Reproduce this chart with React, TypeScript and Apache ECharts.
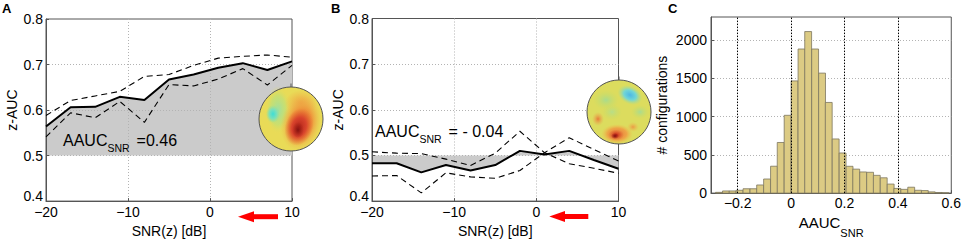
import React, { useEffect, useRef } from "react";
import * as echarts from "echarts";

// ---------- data ----------
const SNR = [-20, -17, -14, -11, -8, -5, -2, 1, 4, 7, 10];
const A_MEAN = [0.564, 0.606, 0.607, 0.629, 0.622, 0.667, 0.678, 0.693, 0.703, 0.688, 0.707];
const A_UPPER = [0.588, 0.621, 0.631, 0.641, 0.674, 0.678, 0.698, 0.714, 0.718, 0.721, 0.716];
const A_LOWER = [0.541, 0.594, 0.583, 0.619, 0.573, 0.656, 0.653, 0.668, 0.691, 0.655, 0.698];

const B_MEAN = [0.483, 0.483, 0.463, 0.479, 0.467, 0.479, 0.51, 0.502, 0.51, 0.49, 0.471];
const B_DASH1 = [0.508, 0.505, 0.504, 0.492, 0.478, 0.505, 0.553, 0.506, 0.482, 0.472, 0.461];
const B_DASH2 = [0.455, 0.456, 0.418, 0.462, 0.453, 0.45, 0.467, 0.506, 0.539, 0.513, 0.488];

const HIST_CENTERS = [
  -0.27, -0.244, -0.219, -0.193, -0.167, -0.141, -0.116, -0.09, -0.064, -0.039, -0.013,
  0.013, 0.039, 0.064, 0.09, 0.116, 0.141, 0.167, 0.193, 0.219, 0.244, 0.27, 0.296,
  0.321, 0.347, 0.373, 0.398, 0.424, 0.45, 0.476, 0.501, 0.527, 0.553, 0.578,
];
const HIST_COUNTS = [
  10, 28, 28, 37, 57, 57, 106, 184, 351, 661, 1016, 1465, 1882, 2110, 1882, 1567, 1184,
  707, 524, 350, 313, 276, 272, 232, 200, 118, 61, 49, 77, 37, 33, 16, 8, 4,
];
const BIN_WIDTH = 0.0257;
const C_VLINES = [-0.2, 0, 0.2, 0.4];
const C_XTICKS = [-0.2, 0, 0.2, 0.4, 0.6];

const SNR_TICKS_INTERVAL = 10;
const AUC_TICKS_INTERVAL = 0.1;
const COUNT_TICKS_INTERVAL = 500;

// ---------- style ----------
const FONT = '"Liberation Sans", Arial, Helvetica, sans-serif';
const AXIS_COLOR = "#555";
const GRID_COLOR = "#b3b3b3";
const FILL_GREY = "#cbcbcb";
const TOP_Z = 100;

const minusFmt = (v: number, digits: number) => {
  const s = Math.abs(v).toFixed(digits);
  return v < -1e-9 ? "\u2212" + s : s;
};

const pairs = (xs: number[], ys: number[]) => xs.map((x, i) => [x, ys[i]]);

function radial(stops: [number, string][]) {
  return {
    type: "radial",
    x: 0.5,
    y: 0.5,
    r: 0.5,
    colorStops: stops.map(([offset, color]) => ({ offset, color })),
  };
}

function blob(cx: number, cy: number, rx: number, ry: number, stops: [number, string][], rotation = 0) {
  return {
    type: "ellipse",
    x: cx,
    y: cy,
    rotation,
    z: TOP_Z,
    shape: { cx: 0, cy: 0, rx, ry },
    style: { fill: radial(stops) },
    silent: true,
  };
}

function head(cx: number, cy: number, r: number, fill: string, blobs: any[]) {
  return [
    { type: "circle", z: TOP_Z, shape: { cx, cy, r }, style: { fill } },
    ...blobs,
    { type: "circle", z: TOP_Z, shape: { cx, cy, r }, style: { fill: "none", stroke: "#555", lineWidth: 1 } },
    { type: "line", z: TOP_Z, shape: { x1: cx, y1: cy - r - 3.5, x2: cx, y2: cy - r }, style: { stroke: "#555", lineWidth: 1 } },
  ];
}

function topoA() {
  return head(291, 119, 32, "#e9db57", [
    blob(278, 110, 13, 24, [[0, "#9fe0a0"], [0.6, "rgba(190,224,120,0.7)"], [1, "rgba(233,219,87,0)"]]),
    blob(273, 114, 7, 9, [[0, "#3fded6"], [0.55, "#7ee0b8"], [1, "rgba(150,224,150,0)"]]),
    blob(301, 103, 16, 13, [[0, "#f0a040"], [1, "rgba(240,170,70,0)"]]),
    blob(301, 123, 20, 28, [[0, "#e25f27"], [0.55, "#ee9a3e"], [1, "rgba(236,190,80,0)"]], -0.25),
    blob(299, 127, 14, 19, [[0, "#b4261a"], [0.5, "#d8432c"], [1, "rgba(230,100,45,0)"]], -0.3),
    blob(298, 130, 6, 8, [[0, "#861210"], [1, "rgba(160,30,20,0)"]]),
  ]);
}

function topoB() {
  return head(619, 112, 32, "#dcdc5e", [
    blob(606, 100, 13, 10, [[0, "#a8dc8e"], [1, "rgba(200,220,100,0)"]]),
    blob(612, 112, 10, 8, [[0, "#b8de88"], [1, "rgba(200,220,100,0)"]]),
    blob(640, 112, 9, 7, [[0, "#a8dc92"], [1, "rgba(200,220,100,0)"]]),
    blob(630, 95, 13, 9, [[0, "#4cb8e6"], [0.5, "#72d6d6"], [1, "rgba(170,220,140,0)"]], -0.45),
    blob(598, 119, 6, 7, [[0, "#e77a38"], [1, "rgba(235,170,80,0)"]]),
    blob(633, 127, 6, 5, [[0, "#ec9a44"], [1, "rgba(235,190,80,0)"]]),
    blob(617, 134, 16, 10, [[0, "#e6753a"], [0.6, "#eea446"], [1, "rgba(235,200,80,0)"]]),
    blob(616, 135, 8, 5.5, [[0, "#c62418"], [1, "rgba(220,80,40,0)"]]),
    blob(615, 136, 4, 3, [[0, "#7e0e0e"], [1, "rgba(150,20,20,0)"]]),
  ]);
}

function arrow(tipX: number, baseX: number, endX: number, y: number) {
  return [
    { type: "rect", z: TOP_Z, shape: { x: baseX - 1, y: y - 2.5, width: endX - baseX + 1, height: 5 }, style: { fill: "#ff0000" } },
    { type: "polygon", z: TOP_Z, shape: { points: [[tipX, y], [baseX, y - 5.5], [baseX, y + 5.5]] }, style: { fill: "#ff0000" } },
  ];
}

const annotRich = {
  a: { fontFamily: FONT, fontSize: 16, lineHeight: 18, verticalAlign: "top", color: "#000" },
  s: { fontFamily: FONT, fontSize: 10.5, lineHeight: 10, padding: [10, 0, 0, 0], verticalAlign: "top", color: "#000" },
  b: { fontFamily: FONT, fontSize: 16, lineHeight: 18, verticalAlign: "top", color: "#000", padding: [0, 0, 0, 7] },
};

function letter(text: string, x: number) {
  return {
    type: "text",
    x,
    y: 2,
    z: TOP_Z,
    style: { text, fontFamily: FONT, fontSize: 13, fontWeight: "bold", fill: "#000", verticalAlign: "top" },
  };
}

function snrXAxis(gridIndex: number) {
  return {
    type: "value",
    gridIndex,
    min: -20,
    max: 10,
    interval: SNR_TICKS_INTERVAL,
    z: 3,
    axisLine: { show: true, onZero: false, lineStyle: { color: AXIS_COLOR, width: 1 } },
    axisTick: { show: true, inside: true, length: 3, lineStyle: { color: AXIS_COLOR } },
    axisLabel: { margin: 5, lineHeight: 12, fontFamily: FONT, fontSize: 14, color: "#000", formatter: (v: number) => minusFmt(v, 0) },
    splitLine: { show: true, showMinLine: false, showMaxLine: false, lineStyle: { color: GRID_COLOR, type: [1, 2], width: 1 } },
    name: "SNR(z) [dB]",
    nameLocation: "middle",
    nameGap: 16,
    nameTextStyle: { fontFamily: FONT, fontSize: 14, color: "#000" },
  };
}

function aucYAxis(gridIndex: number) {
  return {
    type: "value",
    gridIndex,
    min: 0.4,
    max: 0.8,
    interval: AUC_TICKS_INTERVAL,
    z: 3,
    axisLine: { show: true, onZero: false, lineStyle: { color: AXIS_COLOR, width: 1 } },
    axisTick: { show: true, inside: true, length: 3, lineStyle: { color: AXIS_COLOR } },
    axisLabel: {
      margin: 3,
      lineHeight: 10,
      fontFamily: FONT,
      fontSize: 14,
      color: "#000",
      verticalAlignMinLabel: "bottom",
      formatter: (v: number) => v.toFixed(1),
    },
    splitLine: { show: true, showMinLine: false, showMaxLine: false, lineStyle: { color: GRID_COLOR, type: [1, 2], width: 1 } },
    name: "z-AUC",
    nameLocation: "middle",
    nameGap: 27,
    nameTextStyle: { fontFamily: FONT, fontSize: 14, color: "#000" },
  };
}

function snrSeries(idx: number, mean: number[], d1: number[], d2: number[]) {
  const common = { type: "line", xAxisIndex: idx, yAxisIndex: idx, symbol: "none", showSymbol: false, silent: true };
  return [
    {
      ...common,
      data: pairs(SNR, mean),
      lineStyle: { width: 0, opacity: 0 },
      areaStyle: { color: FILL_GREY, opacity: 1, origin: 0.5 },
      z: 1,
    },
    { ...common, data: pairs(SNR, d1), lineStyle: { color: "#000", width: 1.1, type: [6, 4] } },
    { ...common, data: pairs(SNR, d2), lineStyle: { color: "#000", width: 1.1, type: [6, 4] } },
    { ...common, data: pairs(SNR, mean), lineStyle: { color: "#000", width: 2 } },
  ];
}

export default function App() {
  const ref = useRef<HTMLDivElement>(null);
  useEffect(() => {
    if (!ref.current) return;
    const chart = echarts.init(ref.current, undefined, { renderer: "svg" });
    const gridBase = { show: true, borderColor: AXIS_COLOR, borderWidth: 1, backgroundColor: "transparent", containLabel: false };
    const option: any = {
      animation: false,
      backgroundColor: "#fff",
      grid: [
        { ...gridBase, left: 46, top: 19, width: 246, height: 186 },
        { ...gridBase, left: 372, top: 18.5, width: 246.5, height: 187 },
        { ...gridBase, left: 711, top: 17, width: 241, height: 189 },
      ],
      xAxis: [
        snrXAxis(0),
        snrXAxis(1),
        {
          type: "value",
          gridIndex: 2,
          min: -0.3,
          max: 0.6,
          axisLine: { show: true, onZero: false, lineStyle: { color: AXIS_COLOR, width: 1 } },
          axisTick: { show: true, inside: true, length: 3, customValues: C_XTICKS, lineStyle: { color: AXIS_COLOR } },
          axisLabel: {
            margin: 4,
            lineHeight: 12,
            fontFamily: FONT,
            fontSize: 14,
            color: "#000",
            customValues: C_XTICKS,
            formatter: (v: number) => (Math.abs(v) < 1e-9 ? "0" : minusFmt(v, 1)),
          },
          splitLine: { show: false },
          name: "{a|AAUC}{s|SNR}",
          nameLocation: "middle",
          nameGap: 17,
          nameTextStyle: {
            rich: {
              a: { fontFamily: FONT, fontSize: 15, lineHeight: 16, verticalAlign: "top", color: "#000" },
              s: { fontFamily: FONT, fontSize: 11, lineHeight: 11, padding: [12, 0, 0, 0], verticalAlign: "top", color: "#000" },
            },
          },
        },
      ],
      yAxis: [
        aucYAxis(0),
        aucYAxis(1),
        {
          type: "value",
          gridIndex: 2,
          min: 0,
          max: 2300,
          interval: COUNT_TICKS_INTERVAL,
          axisLine: { show: true, onZero: false, lineStyle: { color: AXIS_COLOR, width: 1 } },
          axisTick: { show: true, inside: true, length: 3, lineStyle: { color: AXIS_COLOR } },
          axisLabel: {
            margin: 4,
            lineHeight: 10,
            fontFamily: FONT,
            fontSize: 14,
            color: "#000",
            showMaxLabel: false,
            formatter: (v: number) => (v % COUNT_TICKS_INTERVAL === 0 ? String(v) : ""),
          },
          splitLine: { show: true, showMinLine: false, showMaxLine: false, lineStyle: { color: GRID_COLOR, type: [1, 2], width: 1 } },
          name: "# configurations",
          nameLocation: "middle",
          nameGap: 42,
          nameTextStyle: { fontFamily: FONT, fontSize: 14, color: "#000" },
        },
      ],
      series: [
        ...snrSeries(0, A_MEAN, A_UPPER, A_LOWER),
        ...snrSeries(1, B_MEAN, B_DASH1, B_DASH2),
        {
          type: "custom",
          xAxisIndex: 2,
          yAxisIndex: 2,
          silent: true,
          data: pairs(HIST_CENTERS, HIST_COUNTS),
          encode: { x: 0, y: 1 },
          renderItem: (params: any, api: any) => {
            const c = api.value(0);
            const n = api.value(1);
            const p0 = api.coord([c - BIN_WIDTH / 2, n]);
            const p1 = api.coord([c + BIN_WIDTH / 2, 0]);
            return {
              type: "rect",
              shape: { x: p0[0], y: p0[1], width: p1[0] - p0[0], height: p1[1] - p0[1] },
              style: { fill: "#dccb84", stroke: "#7c7660", lineWidth: 0.8 },
            };
          },
          markLine: {
            silent: true,
            symbol: ["none", "none"],
            label: { show: false },
            lineStyle: { color: "#000", type: [1.5, 1.5], width: 1 },
            data: C_VLINES.map((x) => ({ xAxis: x })),
            z: 5,
          },
        },
      ],
      graphic: [
        letter("A", 2),
        letter("B", 331),
        letter("C", 668),
        {
          type: "text",
          x: 63,
          y: 132,
          z: TOP_Z,
          style: { text: "{a|AAUC}{s|SNR}{b|=0.46}", rich: annotRich, verticalAlign: "top" },
        },
        {
          type: "text",
          x: 375,
          y: 123,
          z: TOP_Z,
          style: { text: "{a|AAUC}{s|SNR}{b|= - 0.04}", rich: annotRich, verticalAlign: "top" },
        },
        ...topoA(),
        ...topoB(),
        ...arrow(238, 254, 278, 216.7),
        ...arrow(549.3, 565, 588.3, 216.5),
      ],
    };
    chart.setOption(option);
    return () => chart.dispose();
  }, []);
  return <div ref={ref} style={{ position: "fixed", left: 0, top: 0, width: 964, height: 243 }} />;
}
